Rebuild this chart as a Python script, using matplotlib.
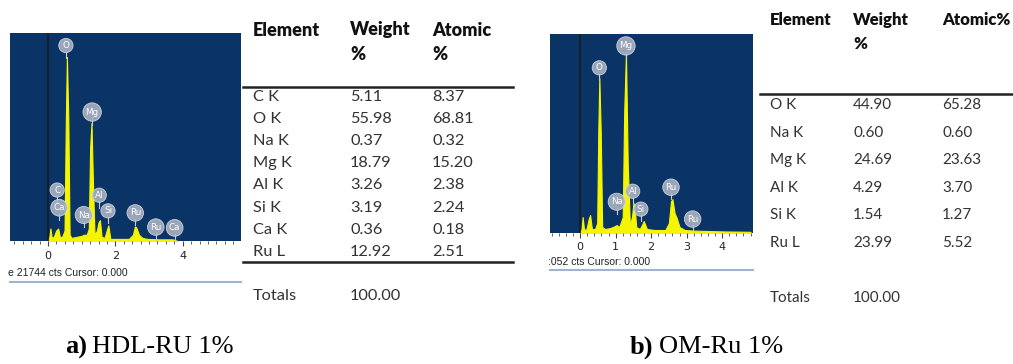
import matplotlib.pyplot as plt

# EDS spectra (energy in keV, counts relative to full scale) and quantification tables

# a) HDL-RU 1%
energy_a = [0.00, 0.04, 0.07, 0.11, 0.17, 0.24, 0.30, 0.35, 0.42, 0.49, 0.53, 0.56, 0.60,
            0.64, 0.70, 0.85, 1.00, 1.06, 1.15, 1.21, 1.25, 1.29, 1.33, 1.38, 1.45, 1.50,
            1.54, 1.59, 1.68, 1.74, 1.79, 1.85, 2.00, 2.40, 2.52, 2.58, 2.62, 2.70, 2.80,
            2.95, 3.30, 3.70, 3.85]
counts_a = [0.0, 0.02, 0.06, 0.015, 0.02, 0.05, 0.06, 0.02, 0.02, 0.05, 0.60, 0.885, 0.60,
            0.03, 0.015, 0.02, 0.025, 0.03, 0.03, 0.06, 0.45, 0.567, 0.30, 0.03, 0.05, 0.09,
            0.10, 0.02, 0.015, 0.05, 0.075, 0.01, 0.01, 0.01, 0.03, 0.07, 0.065, 0.03, 0.015,
            0.01, 0.008, 0.008, 0.0]
labels_a = ["O", "Mg", "C", "Ca", "Na", "Al", "Si", "Ru", "Ru", "Ca"]
label_e_a = [0.53, 1.31, 0.27, 0.33, 1.06, 1.52, 1.78, 2.59, 3.20, 3.76]
label_h_a = [0.94, 0.62, 0.245, 0.16, 0.125, 0.22, 0.145, 0.135, 0.067, 0.063]

# b) OM-Ru 1%
energy_b = [0.00, 0.04, 0.07, 0.11, 0.18, 0.24, 0.28, 0.33, 0.42, 0.48, 0.51, 0.54, 0.58,
            0.62, 0.70, 0.85, 0.98, 1.03, 1.10, 1.20, 1.24, 1.29, 1.34, 1.40, 1.46, 1.50,
            1.53, 1.58, 1.68, 1.74, 1.79, 1.88, 2.10, 2.40, 2.50, 2.56, 2.60, 2.66, 2.72,
            2.80, 2.95, 3.20, 3.60, 4.00, 4.40, 4.80]
counts_b = [0.0, 0.02, 0.08, 0.015, 0.02, 0.07, 0.09, 0.02, 0.02, 0.05, 0.50, 0.78, 0.50,
            0.03, 0.02, 0.025, 0.035, 0.04, 0.03, 0.08, 0.60, 0.905, 0.35, 0.04, 0.08, 0.15,
            0.14, 0.03, 0.02, 0.04, 0.06, 0.02, 0.015, 0.015, 0.05, 0.16, 0.17, 0.10, 0.075,
            0.03, 0.015, 0.012, 0.01, 0.008, 0.007, 0.006]
labels_b = ["Mg", "O", "Na", "Al", "Si", "Ru", "Ru"]
label_e_b = [1.29, 0.54, 1.03, 1.48, 1.71, 2.56, 3.17]
label_h_b = [0.94, 0.83, 0.157, 0.21, 0.12, 0.23, 0.07]

elements_a = ["C K", "O K", "Na K", "Mg K", "Al K", "Si K", "Ca K", "Ru L"]
weight_a = ["5.11", "55.98", "0.37", "18.79", "3.26", "3.19", "0.36", "12.92"]
atomic_a = ["8.37", "68.81", "0.32", "15.20", "2.38", "2.24", "0.18", "2.51"]

elements_b = ["O K", "Na K", "Mg K", "Al K", "Si K", "Ru L"]
weight_b = ["44.90", "0.60", "24.69", "4.29", "1.54", "23.99"]
atomic_b = ["65.28", "0.60", "23.63", "3.70", "1.27", "5.52"]

W, H = 1013, 364
NAVY = "#0b3466"
YELLOW = "#f5f500"

fig = plt.figure(figsize=(W / 100, H / 100), dpi=100)


def rect(x0, y0, x1, y1):
    return [x0 / W, 1 - y1 / H, (x1 - x0) / W, (y1 - y0) / H]


def ftext(x, y, s, **kw):
    fig.text(x / W, 1 - y / H, s, **kw)


def hline(x0, x1, y, **kw):
    fig.add_artist(plt.Line2D([x0 / W, x1 / W], [1 - y / H] * 2, **kw))


def spectrum(box, xlim, energy, counts, labels, lab_e, lab_h, major, minor, pad):
    ax = fig.add_axes(rect(*box))
    ax.set_facecolor(NAVY)
    ax.fill_between(energy, counts, 0, color=YELLOW, lw=0.8, ec=YELLOW)
    ax.axvline(0, color="#1a1a1a", lw=1.2)
    for s, e, h in zip(labels, lab_e, lab_h):
        ax.plot([e, e], [h - 0.06, h - 0.03], color="#c8ccd6", lw=0.8)
        ax.text(e, h, s, ha="center", va="center", fontsize=6.3, color="white",
                bbox=dict(boxstyle="circle,pad=0.3", fc="#aab2c2", ec="#d8dce4",
                          lw=0.6, alpha=0.9))
    ax.set_xlim(xlim)
    ax.set_ylim(0, 1)
    ax.set_yticks([])
    ax.set_xticks(major)
    ax.set_xticks(minor, minor=True)
    ax.tick_params(axis="x", which="both", direction="out", color="#444444",
                   labelsize=8, labelcolor="#222222", pad=pad)
    ax.tick_params(axis="x", which="major", length=3.5, width=0.8)
    ax.tick_params(axis="x", which="minor", length=2, width=0.6)
    for sp in ax.spines.values():
        sp.set_visible(False)
    return ax


spectrum((10, 33, 241, 241), (-1.13, 5.73), energy_a, counts_a, labels_a, label_e_a,
         label_h_a, [0, 2, 4], [i * 0.25 for i in range(-4, 23)], 4)
spectrum((550, 34, 753, 233), (-0.85, 4.87), energy_b, counts_b, labels_b, label_e_b,
         label_h_b, [0, 1, 2, 3, 4], [i * 0.2 for i in range(-4, 25)], 3)

# cursor readout strips under each spectrum
ftext(8, 273, "e 21744 cts Cursor: 0.000", fontsize=7.5, family="Liberation Sans",
      color="#222222", va="center")
hline(10, 241, 282, color="#9fb4d0", lw=1.5)
ftext(548, 262, ":052 cts Cursor: 0.000", fontsize=7.5, family="Liberation Sans",
      color="#222222", va="center")
hline(550, 753, 270, color="#9fb4d0", lw=1.5)

# table a
head = dict(fontsize=13, family="Lato", fontweight="heavy", color="#111111", va="center")
body = dict(fontsize=11.8, family="Lato", color="#333333", va="center")
xa = [253, 350, 432]
ftext(xa[0], 30, "Element", **head)
ftext(xa[1], 30, "Weight", **head)
ftext(xa[2], 30, "Atomic", **head)
ftext(xa[1], 54, "%", **head)
ftext(xa[2], 54, "%", **head)
hline(243, 513, 87, color="#222222", lw=1.8)
for i, (el, w, a) in enumerate(zip(elements_a, weight_a, atomic_a)):
    y = 97 + i * 22.1
    ftext(xa[0], y, el, **body)
    ftext(xa[1], y, w, **body)
    ftext(xa[2], y, a, **body)
hline(243, 513, 262, color="#222222", lw=1.8)
ftext(xa[0], 296, "Totals", **body)
ftext(xa[1], 296, "100.00", **body)

# table b
head_b = dict(head, fontsize=12)
body_b = dict(body, fontsize=11)
xb = [770, 853, 942]
ftext(xb[0], 20, "Element", **head_b)
ftext(xb[1], 20, "Weight", **head_b)
ftext(xb[2], 20, "Atomic%", **head_b)
ftext(xb[1], 44, "%", **head_b)
hline(760, 1013, 94, color="#222222", lw=1.8)
for i, (el, w, a) in enumerate(zip(elements_b, weight_b, atomic_b)):
    y = 105 + i * 27.6
    ftext(xb[0], y, el, **body_b)
    ftext(xb[1], y, w, **body_b)
    ftext(xb[2], y, a, **body_b)
ftext(xb[0], 298, "Totals", **body_b)
ftext(xb[1], 298, "100.00", **body_b)

# panel captions: bold letter, regular name
cap = dict(fontsize=19, family="Liberation Serif", color="black", va="center")
ftext(65, 347, "a)", fontweight="bold", **cap)
ftext(92, 347, "HDL-RU 1%", **cap)
ftext(630, 347, "b)", fontweight="bold", **cap)
ftext(659, 347, "OM-Ru 1%", **cap)

fig.savefig("out.png", dpi=100)
